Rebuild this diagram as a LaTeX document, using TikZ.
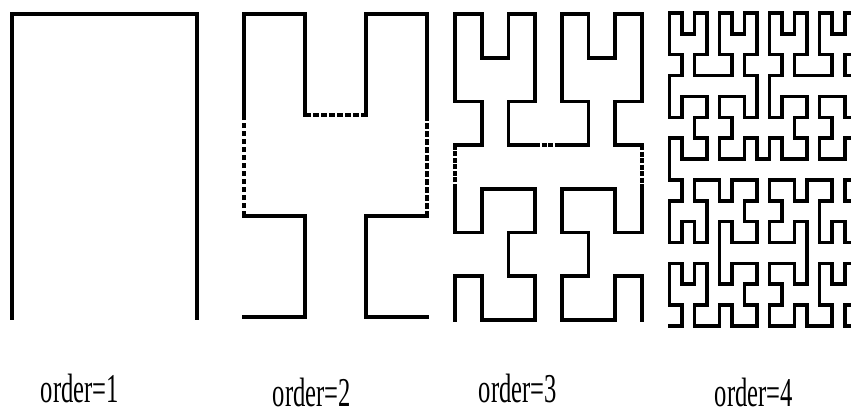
\documentclass[tikz,border=0pt]{standalone}
\usepackage{fontspec}
\setmainfont{Liberation Serif}
% Hilbert curve: index d -> grid point (\hbX,\hbY) on an N x N grid
\newcommand\hbXY[2]{%
  \pgfmathtruncatemacro\hbT{#2}%
  \def\hbX{0}\def\hbY{0}\def\hbS{1}%
  \loop\ifnum\hbS<#1\relax
    \pgfmathtruncatemacro\hbRX{mod(floor(\hbT/2),2)}%
    \pgfmathtruncatemacro\hbRY{mod(\hbT+\hbRX,2)}%
    \ifnum\hbRY=0
      \ifnum\hbRX=1
        \pgfmathtruncatemacro\hbX{\hbS-1-\hbX}%
        \pgfmathtruncatemacro\hbY{\hbS-1-\hbY}%
      \fi
      \let\hbTmp\hbX \let\hbX\hbY \let\hbY\hbTmp
    \fi
    \pgfmathtruncatemacro\hbX{\hbX+\hbS*\hbRX}%
    \pgfmathtruncatemacro\hbY{\hbY+\hbS*\hbRY}%
    \pgfmathtruncatemacro\hbT{floor(\hbT/4)}%
    \pgfmathtruncatemacro\hbS{2*\hbS}%
  \repeat
}
% build solid path \hbPath and connector path \hbDash
\newcommand\hbBuild[2]{%
  \gdef\hbPath{(0,0)}\gdef\hbDash{}%
  \gdef\hbPX{0}\gdef\hbPY{0}%
  \pgfmathtruncatemacro\hbLast{#1*#1-1}%
  \foreach \d in {1,...,\hbLast}{%
    \hbXY{#1}{\d}%
    \pgfmathtruncatemacro\hbM{mod(\d,#2)}%
    \ifnum\hbM=0
      \xdef\hbPath{\hbPath\space(\hbX,\hbY)}%
      \xdef\hbDash{\hbDash\space(\hbPX,\hbPY)--(\hbX,\hbY)}%
    \else
      \xdef\hbPath{\hbPath--(\hbX,\hbY)}%
    \fi
    \xdef\hbPX{\hbX}\xdef\hbPY{\hbY}%
  }%
}
\tikzset{
  hil/.style={line width=3.6pt, line cap=rect, line join=miter},
  hdashA/.style={line width=3.6pt, dash pattern=on 5.5pt off 2.5pt},
  hdashB/.style={line width=3.6pt, dash pattern=on 5pt off 1.5pt},
  lab/.style={anchor=base, inner sep=0pt, font=\fontsize{41}{44}\selectfont}
}
\begin{document}
\begin{tikzpicture}[x=1pt,y=-1pt]
\useasboundingbox (0,0) rectangle (851,415);
\fill[white] (0,0) rectangle (851,415);
\clip (0,0) rectangle (851,415);
% order 1
\hbBuild{2}{1000}
\begin{scope}[shift={(12,318)}, xscale=185, yscale=-304]
  \draw[hil] \hbPath;
\end{scope}
% order 2
\hbBuild{4}{4}
\begin{scope}[shift={(244,317)}, xscale=61, yscale=-101]
  \draw[hil] \hbPath;
  \draw[hdashA] \hbDash;
\end{scope}
% order 3
\hbBuild{8}{16}
\begin{scope}[shift={(455,320)}, xscale=26.71, yscale=-43.71]
  \draw[hil] \hbPath;
  \draw[hdashB] \hbDash;
\end{scope}
% order 4
\hbBuild{16}{1000}
\begin{scope}[shift={(669.3,326)}, xscale=12.53, yscale=-20.87]
  \draw[hil] \hbPath;
\end{scope}
% labels
\node[lab] (o1) at (80,402) {\scalebox{0.6}[1]{order=1}};
\node[lab] (o2) at (312,406) {\scalebox{0.6}[1]{order=2}};
\node[lab] (o3) at (518,402) {\scalebox{0.6}[1]{order=3}};
\node[lab] (o4) at (754,406) {\scalebox{0.6}[1]{order=4}};
\end{tikzpicture}
\end{document}
